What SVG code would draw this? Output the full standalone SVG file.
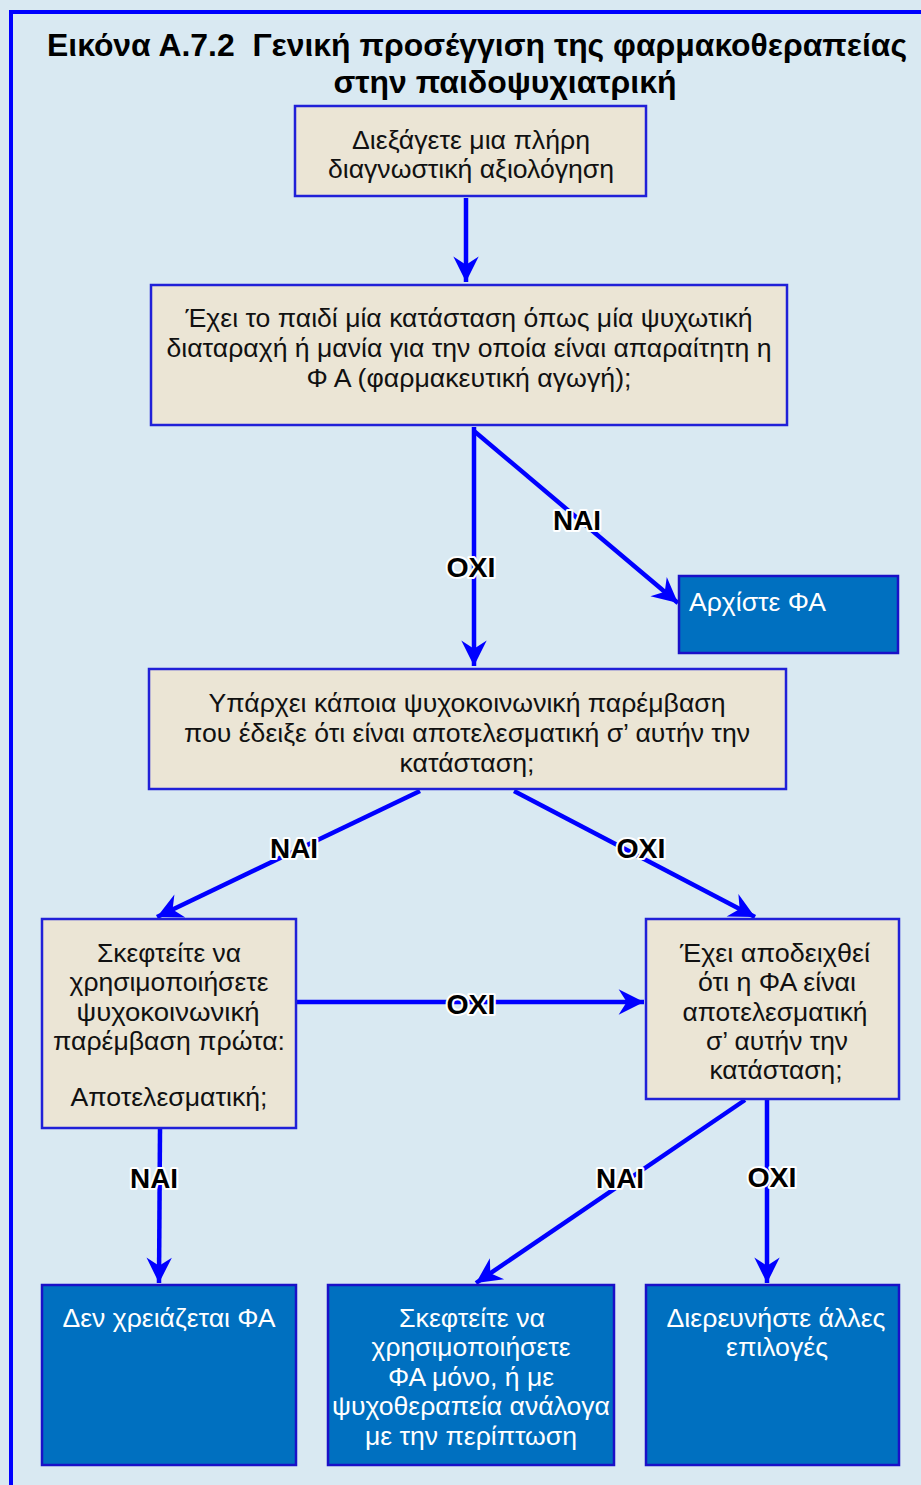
<svg xmlns="http://www.w3.org/2000/svg" width="921" height="1485" viewBox="0 0 921 1485">
<style>
.bg{fill:#d9e9f2}
.frame{fill:none;stroke:#0000ff;stroke-width:4}
.q{fill:#ebe5d5;stroke:#2020d8;stroke-width:2.5}
.a{fill:#0070c0;stroke:#1a10c8;stroke-width:2.5}
.t{font-family:"Liberation Sans",Arial,sans-serif;font-size:25px;fill:#111;text-anchor:middle}
.w{font-family:"Liberation Sans",Arial,sans-serif;font-size:25px;fill:#fff;text-anchor:middle}
.title{font-family:"Liberation Sans",Arial,sans-serif;font-size:31px;font-weight:bold;fill:#000;text-anchor:middle}
.c{fill:none;stroke:#0000ff;stroke-width:4.5}
.lbl{font-family:"Liberation Sans",Arial,sans-serif;font-size:27px;font-weight:bold;fill:#000;stroke:#fff;stroke-width:4;paint-order:stroke;stroke-linejoin:round;text-anchor:middle}
</style>
<defs>
<marker id="ah" markerUnits="userSpaceOnUse" markerWidth="30" markerHeight="30" viewBox="-24 -13 26 26" refX="0" refY="0" orient="auto">
<path d="M0,0 L-22,-11 L-15,0 L-22,11 Z" fill="#0000ff"/>
</marker>
</defs>
<rect class="bg" x="0" y="0" width="921" height="1485"/>
<rect class="frame" x="11" y="12" width="960" height="1500"/>
<g id="title">
<text class="title" x="477" y="56" textLength="860" lengthAdjust="spacingAndGlyphs">Εικόνα Α.7.2&#160; Γενική προσέγγιση της φαρμακοθεραπείας</text>
<text class="title" x="505" y="93" textLength="343" lengthAdjust="spacingAndGlyphs">στην παιδοψυχιατρική</text>
</g>
<g id="connectors">
<line class="c" x1="466" y1="198" x2="466" y2="282" marker-end="url(#ah)"/>
<line class="c" x1="474" y1="427" x2="474" y2="666" marker-end="url(#ah)"/>
<line class="c" x1="474" y1="431" x2="678" y2="603" marker-end="url(#ah)"/>
<line class="c" x1="420" y1="791" x2="157" y2="917" marker-end="url(#ah)"/>
<line class="c" x1="514" y1="791" x2="755" y2="917" marker-end="url(#ah)"/>
<line class="c" x1="297" y1="1002" x2="644" y2="1002" marker-end="url(#ah)"/>
<line class="c" x1="160" y1="1129" x2="159" y2="1283" marker-end="url(#ah)"/>
<line class="c" x1="745" y1="1100" x2="476" y2="1283" marker-end="url(#ah)"/>
<line class="c" x1="767" y1="1100" x2="767" y2="1283" marker-end="url(#ah)"/>
<text class="lbl" x="471" y="577" textLength="49" lengthAdjust="spacingAndGlyphs">ΟΧΙ</text>
<text class="lbl" x="577" y="530" textLength="48" lengthAdjust="spacingAndGlyphs">ΝΑΙ</text>
<text class="lbl" x="294" y="858" textLength="48" lengthAdjust="spacingAndGlyphs">ΝΑΙ</text>
<text class="lbl" x="641" y="858" textLength="49" lengthAdjust="spacingAndGlyphs">ΟΧΙ</text>
<text class="lbl" x="471" y="1014" textLength="49" lengthAdjust="spacingAndGlyphs">ΟΧΙ</text>
<text class="lbl" x="154" y="1188" textLength="48" lengthAdjust="spacingAndGlyphs">ΝΑΙ</text>
<text class="lbl" x="620" y="1188" textLength="48" lengthAdjust="spacingAndGlyphs">ΝΑΙ</text>
<text class="lbl" x="772" y="1187" textLength="49" lengthAdjust="spacingAndGlyphs">ΟΧΙ</text>
</g>
<g id="n1">
<rect class="q" x="295" y="106" width="351" height="90"/>
<text class="t" x="471" y="149" textLength="238" lengthAdjust="spacingAndGlyphs">Διεξάγετε μια πλήρη</text>
<text class="t" x="471" y="178" textLength="286" lengthAdjust="spacingAndGlyphs">διαγνωστική αξιολόγηση</text>
</g>
<g id="n2">
<rect class="q" x="151" y="285" width="636" height="140"/>
<text class="t" x="469" y="327" textLength="567" lengthAdjust="spacingAndGlyphs">Έχει το παιδί μία κατάσταση όπως μία ψυχωτική</text>
<text class="t" x="469" y="357" textLength="605" lengthAdjust="spacingAndGlyphs">διαταραχή ή μανία για την οποία είναι απαραίτητη η</text>
<text class="t" x="469" y="387" textLength="325" lengthAdjust="spacingAndGlyphs">Φ Α (φαρμακευτική αγωγή);</text>
</g>
<g id="n3">
<rect class="a" x="679" y="576" width="219" height="77"/>
<text class="w" x="689" y="611" style="text-anchor:start" textLength="137" lengthAdjust="spacingAndGlyphs">Αρχίστε ΦΑ</text>
</g>
<g id="n4">
<rect class="q" x="149" y="669" width="637" height="120"/>
<text class="t" x="467" y="712" textLength="517" lengthAdjust="spacingAndGlyphs">Υπάρχει κάποια ψυχοκοινωνική παρέμβαση</text>
<text class="t" x="467" y="742" textLength="566" lengthAdjust="spacingAndGlyphs">που έδειξε ότι είναι αποτελεσματική σ’ αυτήν την</text>
<text class="t" x="467" y="772" textLength="135" lengthAdjust="spacingAndGlyphs">κατάσταση;</text>
</g>
<g id="n5">
<rect class="q" x="42" y="919" width="254" height="209"/>
<text class="t" x="169" y="962" textLength="144" lengthAdjust="spacingAndGlyphs">Σκεφτείτε να</text>
<text class="t" x="169" y="991" textLength="199" lengthAdjust="spacingAndGlyphs">χρησιμοποιήσετε</text>
<text class="t" x="168" y="1021" textLength="183" lengthAdjust="spacingAndGlyphs">ψυχοκοινωνική</text>
<text class="t" x="169" y="1050" textLength="232" lengthAdjust="spacingAndGlyphs">παρέμβαση πρώτα:</text>
<text class="t" x="169" y="1106" textLength="197" lengthAdjust="spacingAndGlyphs">Αποτελεσματική;</text>
</g>
<g id="n6">
<rect class="q" x="646" y="919" width="253" height="180"/>
<text class="t" x="775" y="962" textLength="190" lengthAdjust="spacingAndGlyphs">Έχει αποδειχθεί</text>
<text class="t" x="777" y="991" textLength="158" lengthAdjust="spacingAndGlyphs">ότι η ΦΑ είναι</text>
<text class="t" x="775" y="1021" textLength="185" lengthAdjust="spacingAndGlyphs">αποτελεσματική</text>
<text class="t" x="777" y="1050" textLength="142" lengthAdjust="spacingAndGlyphs">σ’ αυτήν την</text>
<text class="t" x="776" y="1079" textLength="133" lengthAdjust="spacingAndGlyphs">κατάσταση;</text>
</g>
<g id="n7">
<rect class="a" x="42" y="1285" width="254" height="180"/>
<text class="w" x="169" y="1327" textLength="213" lengthAdjust="spacingAndGlyphs">Δεν χρειάζεται ΦΑ</text>
</g>
<g id="n8">
<rect class="a" x="328" y="1285" width="286" height="180"/>
<text class="w" x="472" y="1327" textLength="146" lengthAdjust="spacingAndGlyphs">Σκεφτείτε να</text>
<text class="w" x="471" y="1356" textLength="199" lengthAdjust="spacingAndGlyphs">χρησιμοποιήσετε</text>
<text class="w" x="471" y="1386" textLength="166" lengthAdjust="spacingAndGlyphs">ΦΑ μόνο, ή με</text>
<text class="w" x="471" y="1415" textLength="278" lengthAdjust="spacingAndGlyphs">ψυχοθεραπεία ανάλογα</text>
<text class="w" x="471" y="1445" textLength="212" lengthAdjust="spacingAndGlyphs">με την περίπτωση</text>
</g>
<g id="n9">
<rect class="a" x="646" y="1285" width="253" height="180"/>
<text class="w" x="776" y="1327" textLength="219" lengthAdjust="spacingAndGlyphs">Διερευνήστε άλλες</text>
<text class="w" x="777" y="1356" textLength="102" lengthAdjust="spacingAndGlyphs">επιλογές</text>
</g>
</svg>
